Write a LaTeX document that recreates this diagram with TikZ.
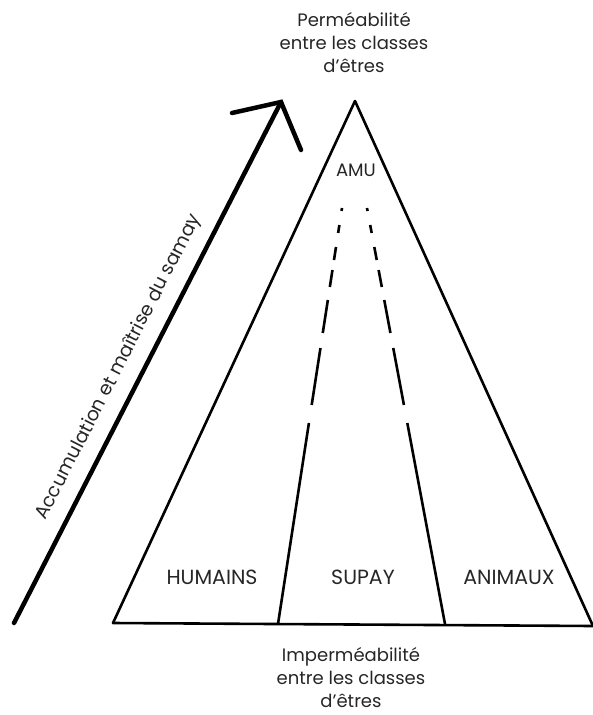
\documentclass[tikz,border=0pt]{standalone}
\usepackage{fontspec}
\setmainfont{Poppins}
\usetikzlibrary{calc}
\tikzset{
  edge/.style={line width=2.6pt, line cap=round, line join=round},
  bigarrow/.style={line width=4.5pt, line cap=round, line join=miter},
  lbl/.style={font=\fontsize{20.5}{24}\selectfont, inner sep=0pt, text=black!85},
  note/.style={font=\fontsize{18}{23}\selectfont, align=center, inner sep=0pt, text=black!85},
  side/.style={font=\fontsize{19}{22}\selectfont, inner sep=0pt, text=black!85}
}
\begin{document}
\begin{tikzpicture}[x=1pt,y=-1pt]
\useasboundingbox (0,0) rectangle (592,715);
% triangle
\coordinate (apex) at (355,101);
\coordinate (bl) at (113,623);
\coordinate (br) at (593,626);
\draw[edge] (bl) -- (apex) -- (br);
\draw[edge] (bl) -- (br);
% dividers
\coordinate (L0) at (342,208);
\coordinate (L1) at (278,624);
\coordinate (R0) at (367,208);
\coordinate (R1) at (445,624);
\foreach \a/\b in {208/211,225/233,247/260,270/287,300/333,348/405,423/624}{
  \draw[edge, line cap=butt] ($(L0)!{(\a-208)/416}!(L1)$) -- ($(L0)!{(\b-208)/416}!(L1)$);
  \draw[edge, line cap=butt] ($(R0)!{(\a-208)/416}!(R1)$) -- ($(R0)!{(\b-208)/416}!(R1)$);
}
% arrow
\coordinate (atail) at (14,623);
\coordinate (atip) at (281,102);
\coordinate (barbL) at (232,113);
\coordinate (barbR) at (301,150);
\draw[bigarrow] (atail) -- (atip);
\draw[bigarrow] (barbL) -- (atip) -- (barbR);
\node[side, rotate=62.9] (acc) at (119,367) {Accumulation et maîtrise du samay};
% labels
\node[lbl, font=\fontsize{18}{20}\selectfont] (amu) at (356,170) {AMU};
\node[lbl] (hum) at (212,577) {HUMAINS};
\node[lbl] (sup) at (363,577) {SUPAY};
\node[lbl] (ani) at (509,577) {ANIMAUX};
\node[note] (top) at (354,43) {Perméabilité\\entre les classes\\d'êtres};
\node[note] (bot) at (351,678) {Imperméabilité\\entre les classes\\d'êtres};
\end{tikzpicture}
\end{document}
